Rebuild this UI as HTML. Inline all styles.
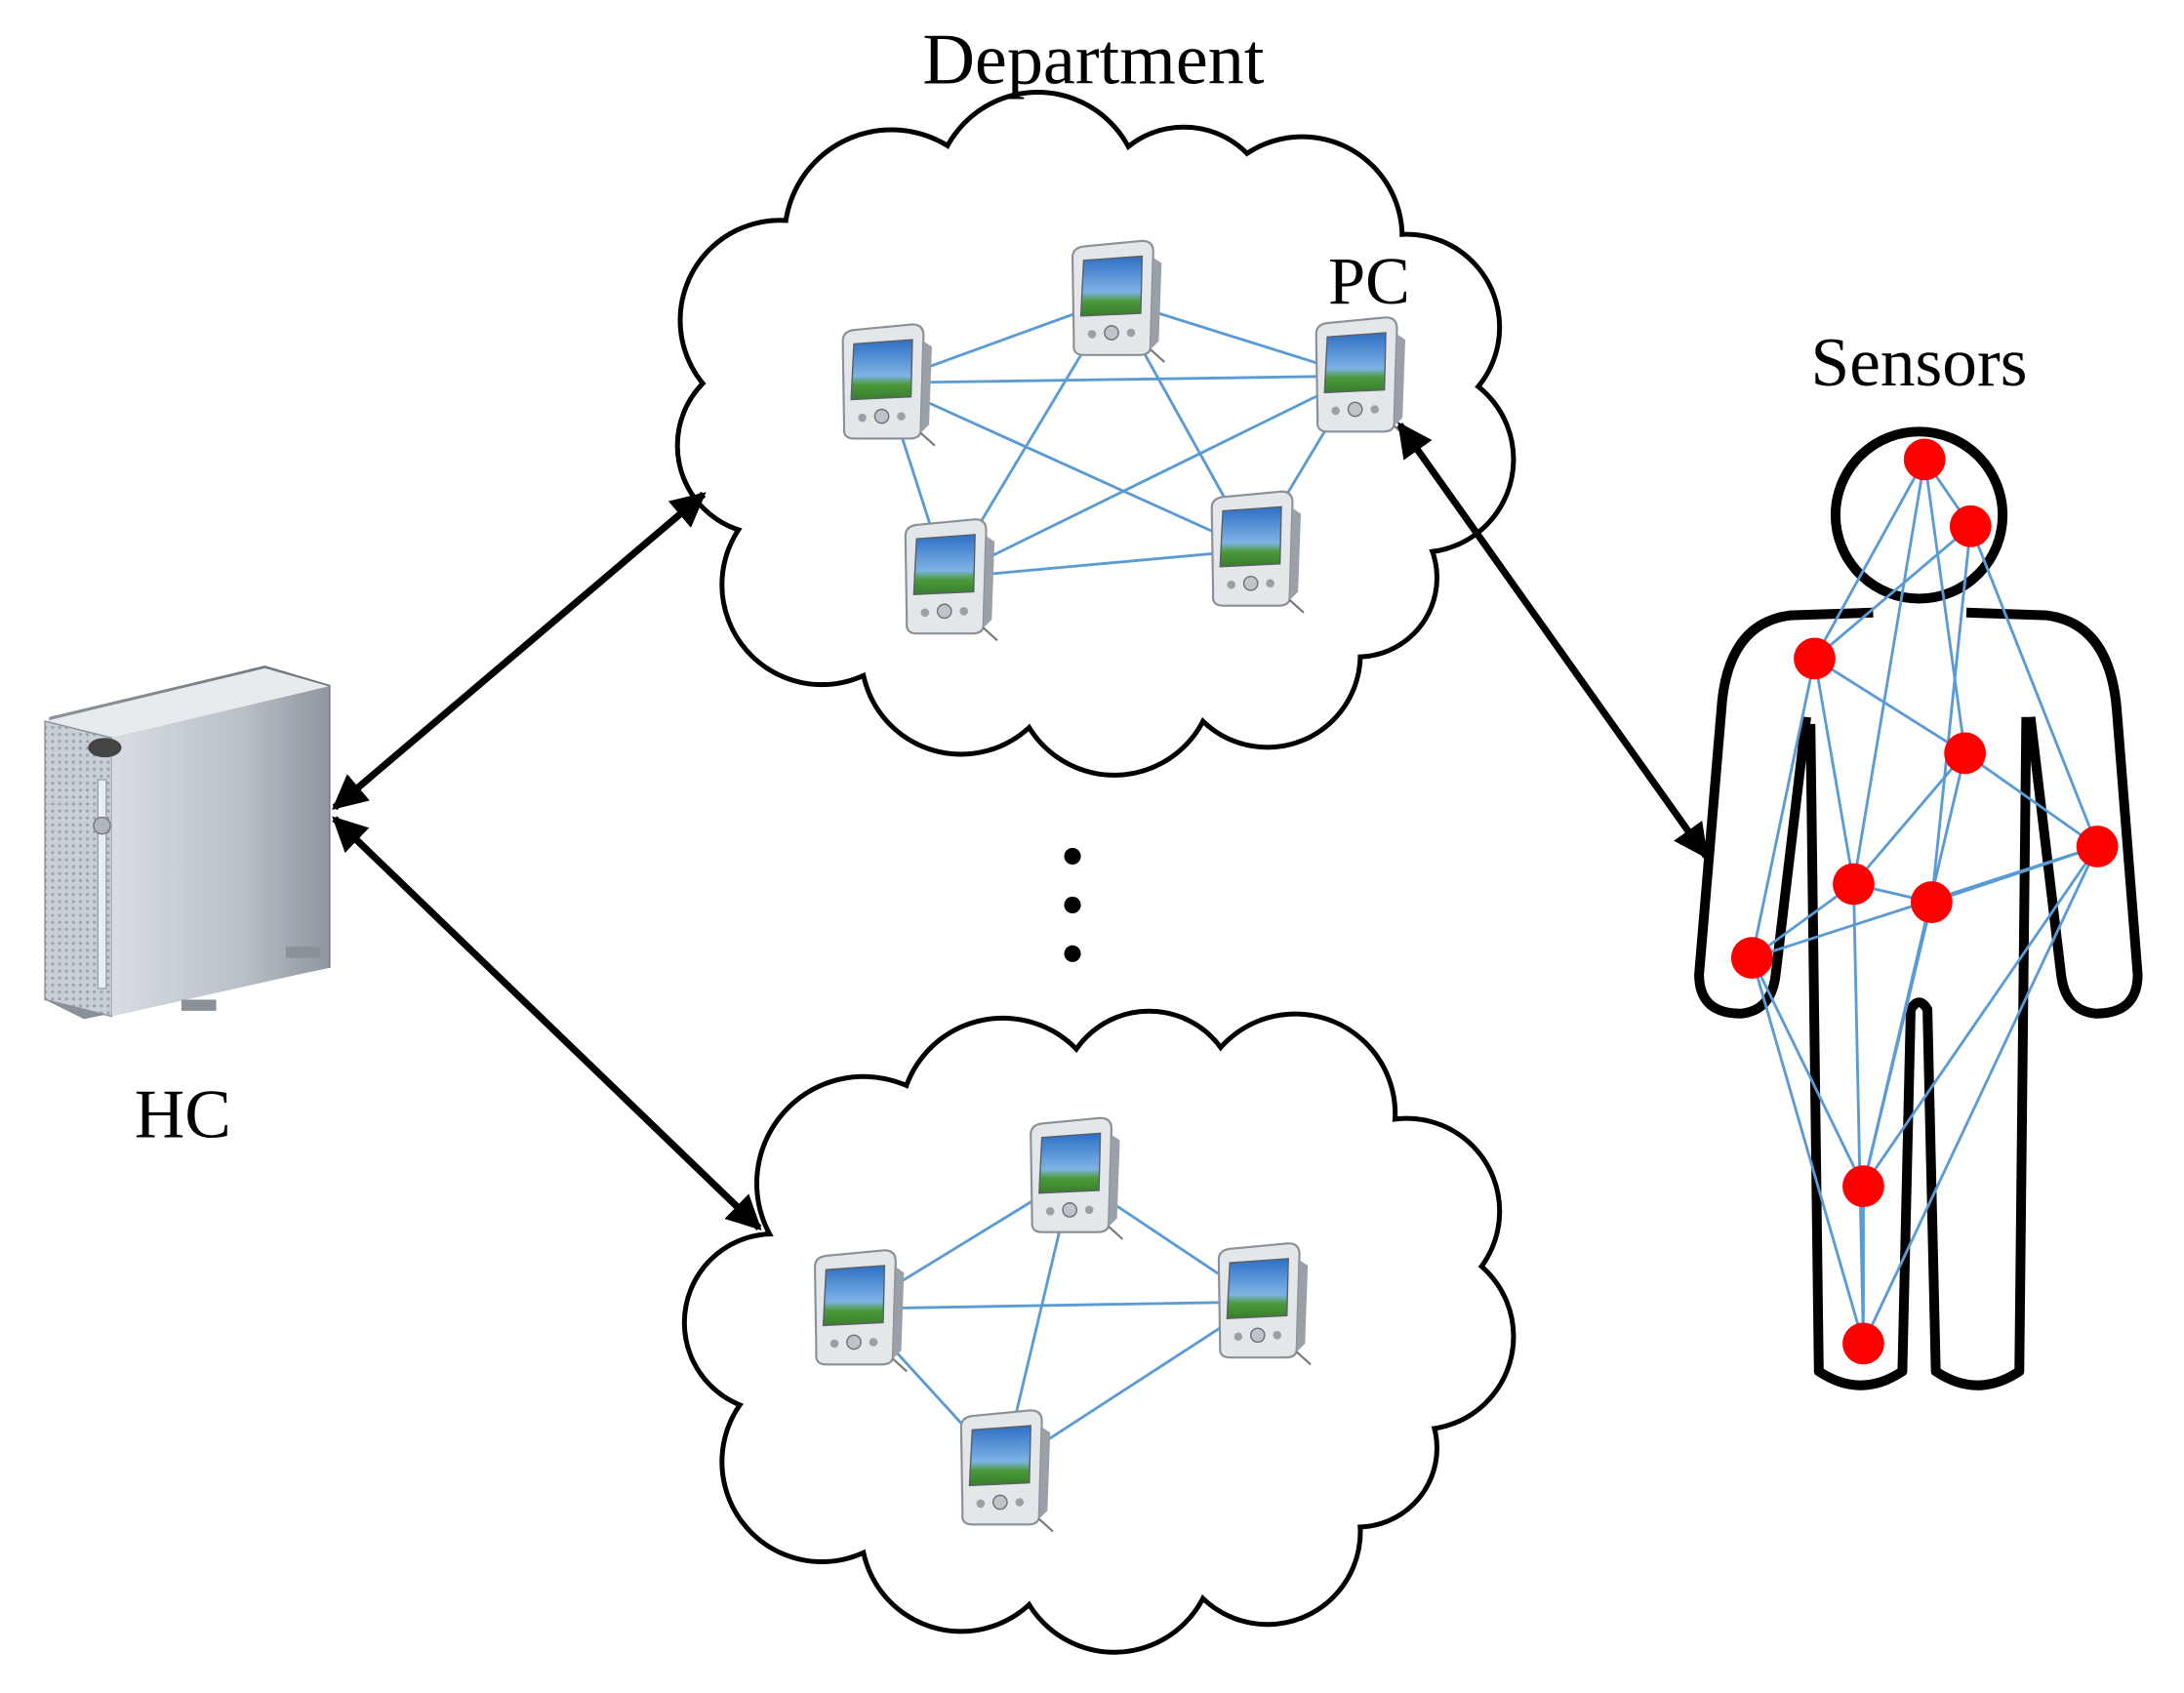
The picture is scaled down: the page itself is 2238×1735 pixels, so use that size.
<!DOCTYPE html>
<html><head><meta charset="utf-8"><style>
html,body{margin:0;padding:0;background:#fff;}
svg{display:block}
text{font-family:"Liberation Serif",serif;fill:#000}
</style></head><body>
<svg width="2238" height="1735" viewBox="0 0 1568 1216" xmlns="http://www.w3.org/2000/svg">
<defs>
<linearGradient id="srv" x1="0" x2="1"><stop offset="0" stop-color="#d8dde3"/><stop offset="0.6" stop-color="#b9c0c8"/><stop offset="1" stop-color="#8e969f"/></linearGradient>
<linearGradient id="srvs" x1="0" x2="1"><stop offset="0" stop-color="#8d949c"/><stop offset="1" stop-color="#6e757d"/></linearGradient>
<pattern id="dots" width="5" height="5" patternUnits="userSpaceOnUse"><rect width="5" height="5" fill="#c9cfd6"/><circle cx="2.5" cy="2.5" r="1.1" fill="#9aa2ab"/></pattern>
<linearGradient id="scr" x1="0" y1="0" x2="0" y2="1"><stop offset="0" stop-color="#2d6fc4"/><stop offset="0.6" stop-color="#7fb3e6"/><stop offset="0.75" stop-color="#4a9a3a"/><stop offset="1" stop-color="#3a7d2c"/></linearGradient>
<g id="pda">
<path d="M-22,-38 L20,-42 Q28,-42 28,-34 L26,34 Q26,40 18,40 L-22,40 Q-30,40 -29,32 L-30,-30 Q-30,-37 -22,-38Z" fill="#e4e7ea" stroke="#8a9098" stroke-width="1.5"/>
<path d="M28,-30 L34,-26 L32,30 L26,36Z" fill="#9aa0a8"/>
<path d="M-22,-28 L20,-31 L19,10 L-24,12Z" fill="url(#scr)" stroke="#5a6068" stroke-width="1"/>
<circle cx="-2" cy="24" r="5" fill="#bfc4ca" stroke="#6b7178"/>
<circle cx="-16" cy="25" r="3" fill="#9aa0a8"/><circle cx="12" cy="24" r="3" fill="#9aa0a8"/>
<path d="M26,36 L36,45" stroke="#777" stroke-width="1.5"/>
</g>
<g id="cloudT">
<circle cx="560" cy="230" r="70"/><circle cx="640" cy="170" r="75"/><circle cx="745" cy="140" r="72"/><circle cx="850" cy="155" r="62"/><circle cx="935" cy="170" r="70"/><circle cx="1010" cy="235" r="65"/><circle cx="1020" cy="330" r="65"/><circle cx="975" cy="415" r="55"/><circle cx="910" cy="470" r="65"/><circle cx="800" cy="485" r="70"/><circle cx="690" cy="470" r="70"/><circle cx="590" cy="420" r="70"/><circle cx="550" cy="320" r="62"/><ellipse cx="785" cy="320" rx="230" ry="170"/>
</g>
<g id="cloudB">
<circle cx="620" cy="850" r="75"/><circle cx="720" cy="805" r="72"/><circle cx="825" cy="790" r="62"/><circle cx="930" cy="800" r="70"/><circle cx="1010" cy="870" r="65"/><circle cx="1020" cy="960" r="65"/><circle cx="975" cy="1040" r="55"/><circle cx="910" cy="1100" r="65"/><circle cx="800" cy="1115" r="70"/><circle cx="690" cy="1100" r="70"/><circle cx="590" cy="1050" r="70"/><circle cx="555" cy="950" r="62"/><ellipse cx="785" cy="955" rx="230" ry="160"/>
</g>
<marker id="ah" viewBox="0 0 10 10" refX="9" refY="5" markerWidth="5" markerHeight="5" orient="auto-start-reverse"><path d="M0,0 L10,5 L0,10 Z" fill="#000"/></marker>
</defs>

<use href="#cloudT" fill="none" stroke="#000" stroke-width="7"/>
<use href="#cloudT" fill="#fff" stroke="none"/>
<use href="#cloudB" fill="none" stroke="#000" stroke-width="7"/>
<use href="#cloudB" fill="#fff" stroke="none"/>

<text x="785" y="60" font-size="52" text-anchor="middle">Department</text>
<text x="983" y="218" font-size="48" text-anchor="middle">PC</text>
<text x="1378" y="277" font-size="50" text-anchor="middle">Sensors</text>
<text x="131" y="817" font-size="50" text-anchor="middle">HC</text>

<g stroke="#5b9bd5" stroke-width="2">
<line x1="635" y1="275" x2="800" y2="215"/><line x1="800" y1="215" x2="975" y2="270"/><line x1="635" y1="275" x2="975" y2="270"/>
<line x1="635" y1="275" x2="680" y2="415"/><line x1="635" y1="275" x2="900" y2="395"/><line x1="800" y1="215" x2="680" y2="415"/>
<line x1="800" y1="215" x2="900" y2="395"/><line x1="975" y1="270" x2="680" y2="415"/><line x1="975" y1="270" x2="900" y2="395"/><line x1="680" y1="415" x2="900" y2="395"/>
<line x1="615" y1="940" x2="770" y2="845"/><line x1="770" y1="845" x2="905" y2="935"/><line x1="615" y1="940" x2="905" y2="935"/>
<line x1="615" y1="940" x2="720" y2="1055"/><line x1="770" y1="845" x2="720" y2="1055"/><line x1="905" y1="935" x2="720" y2="1055"/>
</g>
<use href="#pda" x="635" y="275"/><use href="#pda" x="800" y="215"/><use href="#pda" x="975" y="270"/><use href="#pda" x="680" y="415"/><use href="#pda" x="900" y="395"/>
<use href="#pda" x="615" y="940"/><use href="#pda" x="770" y="845"/><use href="#pda" x="905" y="935"/><use href="#pda" x="720" y="1055"/>

<circle cx="770" cy="615" r="6"/><circle cx="770" cy="650" r="6"/><circle cx="770" cy="685" r="6"/>

<!-- server -->
<path d="M35,515 L190,478 L237,492 L237,695 L60,732 L32,718 Z" fill="url(#srvs)"/>
<path d="M32,518 L190,480 L236,493 L80,530 Z" fill="#e8ebee"/>
<path d="M32,518 L80,530 L80,730 L32,718 Z" fill="url(#dots)" stroke="#8a9199"/>
<path d="M80,530 L236,493 L236,695 L80,730 Z" fill="url(#srv)"/>
<rect x="70" y="560" width="6" height="150" fill="#e9edf1" stroke="#9aa2ab"/>
<circle cx="73" cy="593" r="6" fill="#b0b6bd" stroke="#777"/>
<ellipse cx="75" cy="537" rx="12" ry="7" fill="#444"/>
<rect x="130" y="718" width="25" height="8" fill="#8a9199"/><rect x="205" y="680" width="25" height="8" fill="#8a9199"/>

<g stroke="#000" stroke-width="5" fill="none">
<line x1="240" y1="580" x2="505" y2="355" marker-start="url(#ah)" marker-end="url(#ah)"/>
<line x1="240" y1="588" x2="545" y2="882" marker-start="url(#ah)" marker-end="url(#ah)"/>
<line x1="1005" y1="305" x2="1225" y2="615" marker-start="url(#ah)" marker-end="url(#ah)"/>
</g>

<!-- human -->
<g stroke="#000" stroke-width="7" fill="none" stroke-linejoin="round">
<circle cx="1378" cy="370" r="60"/>
<path d="M1345,440 L1285,442 Q1240,448 1236,510 L1220,700 Q1220,728 1250,728 Q1272,726 1275,700 L1297,515"/>
<path d="M1300,520 L1306,985 Q1336,1005 1366,985 L1372,725 Q1378,715 1384,725 L1390,985 Q1420,1005 1450,985 L1455,515"/>
<path d="M1412,440 L1470,442 Q1515,448 1520,510 L1535,700 Q1535,728 1505,728 Q1483,726 1480,700 L1458,515"/>
</g>
<g stroke="#5b9bd5" stroke-width="2">
<line x1="1382" y1="330" x2="1415" y2="378"/><line x1="1382" y1="330" x2="1303" y2="473"/><line x1="1382" y1="330" x2="1411" y2="541"/><line x1="1382" y1="330" x2="1331" y2="635"/>
<line x1="1415" y1="378" x2="1303" y2="473"/><line x1="1415" y1="378" x2="1506" y2="608"/><line x1="1415" y1="378" x2="1387" y2="648"/>
<line x1="1303" y1="473" x2="1411" y2="541"/><line x1="1303" y1="473" x2="1258" y2="688"/><line x1="1303" y1="473" x2="1331" y2="635"/>
<line x1="1411" y1="541" x2="1506" y2="608"/><line x1="1411" y1="541" x2="1331" y2="635"/><line x1="1411" y1="541" x2="1338" y2="852"/>
<line x1="1506" y1="608" x2="1387" y2="648"/><line x1="1506" y1="608" x2="1258" y2="688"/><line x1="1506" y1="608" x2="1338" y2="852"/><line x1="1506" y1="608" x2="1338" y2="965"/>
<line x1="1331" y1="635" x2="1387" y2="648"/><line x1="1331" y1="635" x2="1258" y2="688"/><line x1="1331" y1="635" x2="1338" y2="965"/>
<line x1="1387" y1="648" x2="1338" y2="852"/><line x1="1258" y1="688" x2="1338" y2="852"/><line x1="1258" y1="688" x2="1338" y2="965"/><line x1="1338" y1="852" x2="1338" y2="965"/>
</g>
<g fill="#ff0000">
<circle cx="1382" cy="330" r="15"/><circle cx="1415" cy="378" r="15"/><circle cx="1303" cy="473" r="15"/><circle cx="1411" cy="541" r="15"/><circle cx="1506" cy="608" r="15"/>
<circle cx="1331" cy="635" r="15"/><circle cx="1387" cy="648" r="15"/><circle cx="1258" cy="688" r="15"/><circle cx="1338" cy="852" r="15"/><circle cx="1338" cy="965" r="15"/>
</g>
</svg>
</body></html>
